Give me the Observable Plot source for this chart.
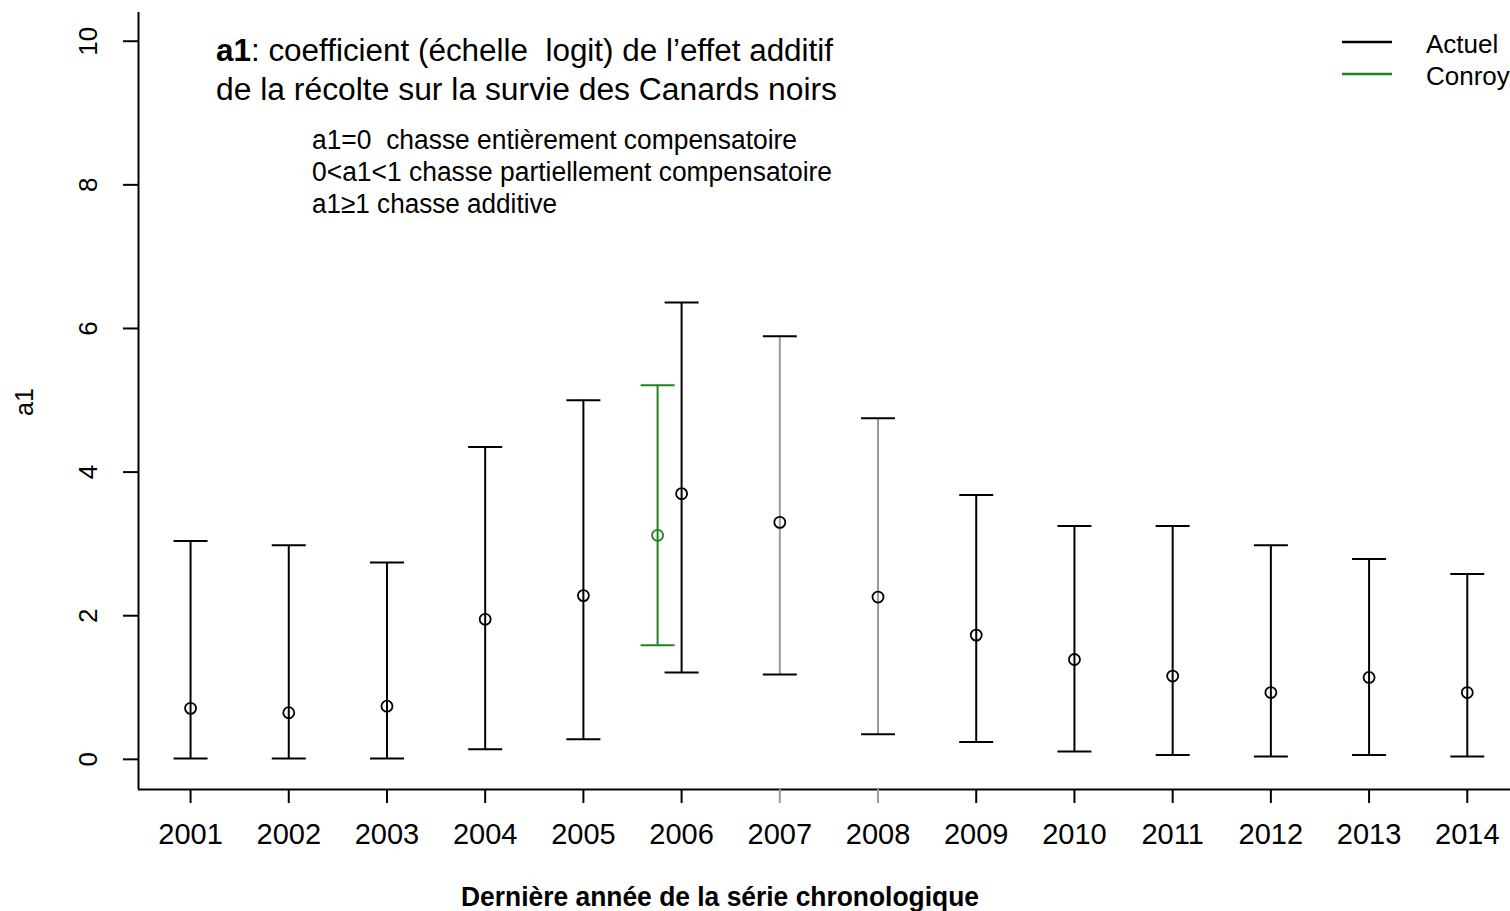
<!DOCTYPE html>
<html><head><meta charset="utf-8">
<script src="https://cdn.jsdelivr.net/npm/d3@7"></script>
<script src="https://cdn.jsdelivr.net/npm/@observablehq/plot@0.6"></script>
<style>
body{margin:0;background:#fff;}
#wrap{position:relative;width:1510px;height:911px;overflow:hidden;font-family:"Liberation Sans",Arial,sans-serif;}
#wrap svg{position:absolute;left:0;top:0;}
</style></head><body><div id="wrap"></div>
<script>
// ---- data ----
const years = [2001, 2002, 2003, 2004, 2005, 2006, 2007, 2008, 2009, 2010, 2011, 2012, 2013, 2014];
const actuelMean = [0.71, 0.65, 0.74, 1.95, 2.28, 3.70, 3.30, 2.26, 1.73, 1.39, 1.16, 0.93, 1.14, 0.93];
const actuelLow  = [0.01, 0.01, 0.01, 0.14, 0.28, 1.21, 1.18, 0.35, 0.24, 0.11, 0.06, 0.04, 0.06, 0.04];
const actuelHigh = [3.04, 2.98, 2.74, 4.35, 5.00, 6.36, 5.89, 4.75, 3.68, 3.25, 3.25, 2.98, 2.79, 2.58];
const conroyYears = [2006];
const conroyMean = [3.12];
const conroyLow  = [1.59];
const conroyHigh = [5.21];
const grayYears = [2007, 2008];
const yTicks = [0, 2, 4, 6, 8, 10];
const seriesNames = ["Actuel", "Conroy"];
const titleLines = ["coefficient (échelle  logit) de l’effet additif", "de la récolte sur la survie des Canards noirs"];
const noteLines = ["a1=0  chasse entièrement compensatoire", "0<a1<1 chasse partiellement compensatoire", "a1≥1 chasse additive"];
const xTitle = "Dernière année de la série chronologique";
const yTitle = "a1";

// ---- styles ----
const BLACK = "#000", GRAY = "#9a9a9a", GREEN = "#1f841f";
const xDomain = [2000.47, 2014.44];
const yDomain = [-0.42, 10.4];

const actuel = years.map((y, i) => ({year: y, mean: actuelMean[i], lo: actuelLow[i], hi: actuelHigh[i]}));
const conroy = conroyYears.map((y, i) => ({year: y, mean: conroyMean[i], lo: conroyLow[i], hi: conroyHigh[i]}));

const capSymbol = {
  draw(ctx, size) {
    const w = Math.sqrt(size / Math.PI);
    ctx.moveTo(-w, 0); ctx.lineTo(w, 0);
  }
};
const stemColor = d => grayYears.includes(d.year) ? GRAY : BLACK;

const chart = Plot.plot({
  width: 1510, height: 911,
  marginLeft: 138, marginRight: 0, marginTop: 12, marginBottom: 122,
  x: {domain: xDomain, label: null},
  y: {domain: yDomain, label: null},
  style: {fontFamily: '"Liberation Sans", Arial, sans-serif', background: "transparent", color: "#000"},
  marks: [
    Plot.ruleY([yDomain[0]], {stroke: BLACK, strokeWidth: 2}),
    Plot.ruleX([xDomain[0]], {stroke: BLACK, strokeWidth: 2}),
    // y ticks (lines only) and rotated y labels (text only)
    Plot.axisY({ticks: yTicks, tickSize: 15, fill: "none", strokeWidth: 2, label: null}),
    Plot.axisY({ticks: yTicks, tickSize: 15, tickPadding: 35, stroke: "none", rotate: -90, textAnchor: "middle",
      fontSize: 26, tickFormat: d => String(d), label: null}),
    Plot.axisX({ticks: years, tickSize: 14, tickPadding: 20, fontSize: 29, strokeWidth: 2,
      stroke: d => grayYears.includes(d) ? GRAY : BLACK, tickFormat: d => String(d), label: null}),
    // Actuel
    Plot.ruleX(actuel, {x: "year", y1: "lo", y2: "hi", stroke: stemColor, strokeWidth: 2}),
    Plot.dot(actuel, {x: "year", y: "hi", symbol: capSymbol, r: 17, fill: "none", stroke: BLACK, strokeWidth: 2}),
    Plot.dot(actuel, {x: "year", y: "lo", symbol: capSymbol, r: 17, fill: "none", stroke: BLACK, strokeWidth: 2}),
    Plot.dot(actuel, {x: "year", y: "mean", r: 5.5, fill: "none", stroke: BLACK, strokeWidth: 1.8}),
    // Conroy
    Plot.ruleX(conroy, {x: "year", y1: "lo", y2: "hi", dx: -24, stroke: GREEN, strokeWidth: 2}),
    Plot.dot(conroy, {x: "year", y: "hi", dx: -24, symbol: capSymbol, r: 17, fill: "none", stroke: GREEN, strokeWidth: 2}),
    Plot.dot(conroy, {x: "year", y: "lo", dx: -24, symbol: capSymbol, r: 17, fill: "none", stroke: GREEN, strokeWidth: 2}),
    Plot.dot(conroy, {x: "year", y: "mean", dx: -24, r: 5.5, fill: "none", stroke: GREEN, strokeWidth: 1.8})
  ]
});
const wrap = document.getElementById("wrap");
wrap.appendChild(chart);

// ---- annotations overlay ----
const ns = "http://www.w3.org/2000/svg";
const ov = document.createElementNS(ns, "svg");
ov.setAttribute("width", 1510); ov.setAttribute("height", 911);
ov.style.fontFamily = '"Liberation Sans", Arial, sans-serif';
ov.style.pointerEvents = "none";
wrap.appendChild(ov);
function txt(str, x, y, opts = {}) {
  const t = document.createElementNS(ns, "text");
  t.setAttribute("x", x); t.setAttribute("y", y);
  t.setAttribute("font-size", opts.size || 24);
  t.setAttribute("fill", opts.fill || "#000");
  t.setAttribute("xml:space", "preserve");
  t.style.whiteSpace = "pre";
  if (opts.weight) t.setAttribute("font-weight", opts.weight);
  if (opts.anchor) t.setAttribute("text-anchor", opts.anchor);
  if (opts.transform) t.setAttribute("transform", opts.transform);
  if (opts.len) { t.setAttribute("textLength", opts.len); t.setAttribute("lengthAdjust", "spacingAndGlyphs"); }
  if (opts.bold) {
    const b = document.createElementNS(ns, "tspan"); b.setAttribute("font-weight", "bold"); b.textContent = opts.bold;
    t.appendChild(b);
    const r = document.createElementNS(ns, "tspan"); r.textContent = str; t.appendChild(r);
  } else t.textContent = str;
  ov.appendChild(t);
  return t;
}
txt(": " + titleLines[0], 216, 61, {size: 31, bold: "a1", len: 617});
txt(titleLines[1], 216, 100, {size: 31, len: 621});
txt(noteLines[0], 312, 149, {size: 27, len: 485});
txt(noteLines[1], 312, 181, {size: 27, len: 520});
txt(noteLines[2], 312, 213, {size: 27, len: 245});
txt(xTitle, 720, 906, {size: 27, weight: "bold", anchor: "middle", len: 518});
txt(yTitle, 0, 0, {size: 25, anchor: "middle", transform: "translate(33,402) rotate(-90)"});
// legend
[[BLACK, 42], [GREEN, 74]].forEach(([c, y], i) => {
  const l = document.createElementNS(ns, "line");
  l.setAttribute("x1", 1342); l.setAttribute("x2", 1392); l.setAttribute("y1", y); l.setAttribute("y2", y);
  l.setAttribute("stroke", c); l.setAttribute("stroke-width", 2.5);
  ov.appendChild(l);
  txt(seriesNames[i], 1426, y + 11, {size: 26});
});
</script></body></html>
